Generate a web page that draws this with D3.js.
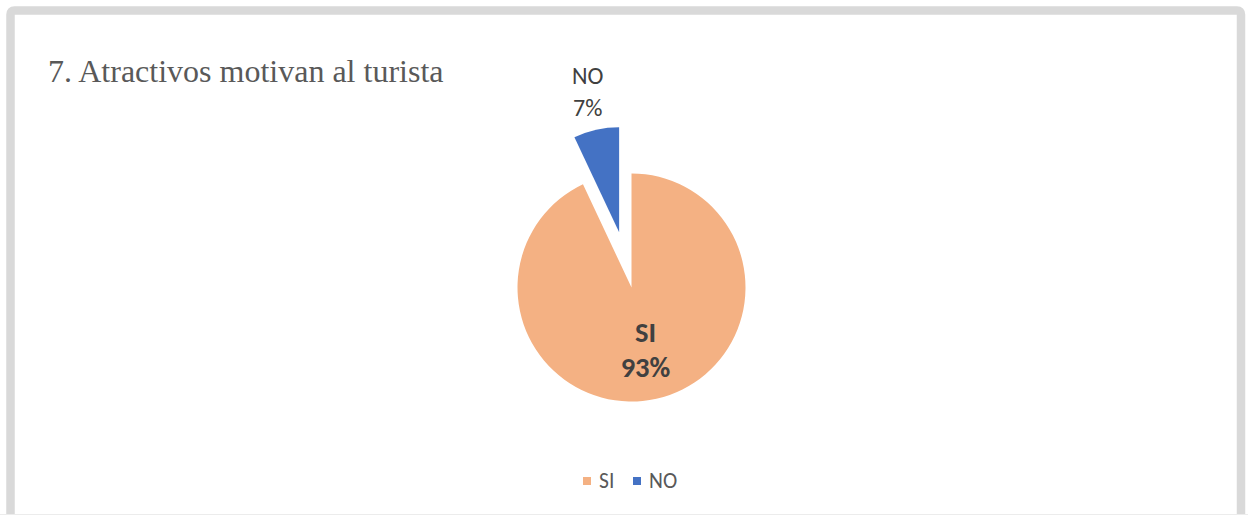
<!DOCTYPE html>
<html>
<head>
<meta charset="utf-8">
<script src="https://cdn.jsdelivr.net/npm/d3@7"></script>
<style>
  body { margin: 0; background: #fff; }
  svg { display: block; }
</style>
</head>
<body>
<svg id="chart" width="1248" height="515"></svg>
<script>
// chart data
const categories = ["SI", "NO"];
const values = [93, 7];
const colors = ["#F4B183", "#4472C4"];
const title = "7. Atractivos motivan al turista";

const width = 1248;
const height = 515;
const labelFont = "Carlito, Lato, 'Open Sans', sans-serif";

const svg = d3.select("#chart");

// frame of the chart area (open at the bottom, cut by the picture)
svg.append("path")
	.attr("d", "M10.5,530 L10.5,14.5 Q10.5,10.5 14.5,10.5 L1237,10.5 Q1241,10.5 1241,14.5 L1241,530")
	.attr("fill", "none")
	.attr("stroke", "#d9d9d9")
	.attr("stroke-width", 8.5);
svg.append("line")
	.attr("x1", 0).attr("x2", width)
	.attr("y1", 514.5).attr("y2", 514.5)
	.attr("stroke", "#ececec")
	.attr("stroke-width", 1);

// title
svg.append("text")
	.attr("x", 48)
	.attr("y", 82)
	.attr("font-family", "'Liberation Serif', 'Times New Roman', serif")
	.attr("font-size", 32)
	.attr("fill", "#595959")
	.text(title);

// pie
const cx = 631.5;
const cy = 287.5;
const radius = 114;
const explodeDist = 56.7;
const explodedRadius = 105;

const data = categories.map((c, i) => ({ name: c, value: values[i], color: colors[i] }));

const pie = d3.pie().sort(null).value((d) => d.value).startAngle(0).endAngle(2 * Math.PI);
const arcs = pie(data);

const arcMain = d3.arc().innerRadius(0).outerRadius(radius);
const arcExploded = d3.arc().innerRadius(0).outerRadius(explodedRadius);

const g = svg.append("g").attr("transform", `translate(${cx},${cy})`);

// the small slice (NO) is pulled out of the pie
const isExploded = (d) => d.data.name === "NO";
const midAngle = (d) => (d.startAngle + d.endAngle) / 2;

g.selectAll("path.slice")
	.data(arcs)
	.enter()
	.append("path")
	.attr("class", "slice")
	.attr("d", (d) => (isExploded(d) ? arcExploded(d) : arcMain(d)))
	.attr("fill", (d) => d.data.color)
	.attr("transform", (d) => {
		if (!isExploded(d)) return null;
		const a = midAngle(d);
		return `translate(${Math.sin(a) * explodeDist},${-Math.cos(a) * explodeDist})`;
	});

// data labels
const labels = g.selectAll("text.label")
	.data(arcs)
	.enter()
	.append("text")
	.attr("class", "label")
	.attr("text-anchor", "middle")
	.attr("font-family", labelFont)
	.attr("fill", "#404040")
	.attr("font-size", (d) => (isExploded(d) ? 24 : 28.5))
	.attr("font-weight", (d) => (isExploded(d) ? "normal" : "bold"))
	.attr("transform", (d) => {
		const a = midAngle(d);
		const r = isExploded(d) ? 201 : 64;
		return `translate(${Math.sin(a) * r},${-Math.cos(a) * r})`;
	});

labels.append("tspan")
	.attr("x", 0)
	.attr("dy", (d) => (isExploded(d) ? -7 : -8))
	.text((d) => d.data.name);
labels.append("tspan")
	.attr("x", 0)
	.attr("dy", (d) => (isExploded(d) ? 32 : 35))
	.text((d) => Math.round((d.data.value / d3.sum(values)) * 100) + "%");

// legend
const legendX = d3.scalePoint().domain(categories).range([583, 633]);
const legend = svg.append("g").attr("transform", "translate(0,481)");
const item = legend.selectAll("g")
	.data(data)
	.enter()
	.append("g")
	.attr("transform", (d) => `translate(${legendX(d.name)},0)`);
item.append("rect")
	.attr("x", 0).attr("y", -4)
	.attr("width", 8).attr("height", 8)
	.attr("fill", (d) => d.color);
item.append("text")
	.attr("x", 16)
	.attr("y", 6.5)
	.attr("font-family", labelFont)
	.attr("font-size", 21.5)
	.attr("fill", "#595959")
	.text((d) => d.name);
</script>
</body>
</html>
